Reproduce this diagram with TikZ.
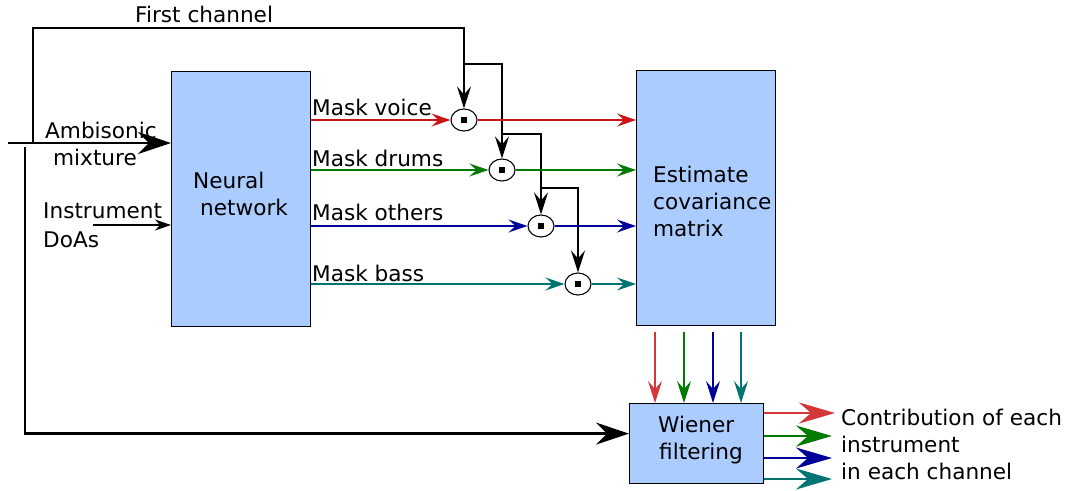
\documentclass[tikz,border=0pt]{standalone}
\usepackage{fontspec}
\setmainfont{DejaVu Sans}
\usetikzlibrary{arrows.meta,shapes.geometric,calc}
\definecolor{boxblue}{HTML}{AACCFF}
\definecolor{cred}{HTML}{CC1414}
\definecolor{cgreen}{HTML}{007A00}
\definecolor{cblue}{HTML}{00009A}
\definecolor{cteal}{HTML}{007373}
\tikzset{
  blk/.style={draw=black, line width=1.2pt, fill=boxblue, inner sep=0pt},
  txt/.style={anchor=base west, inner sep=0pt},
  mult/.style={draw=black, ellipse, line width=1.1pt, fill=white, minimum width=26pt, minimum height=22pt, inner sep=0pt},
  dot/.style={fill=black, minimum size=6pt, inner sep=0pt},
  tipS/.style={-{Stealth[length=19pt,width=13pt,inset=7pt]}},
  tipM/.style={-{Stealth[length=22pt,width=14pt,inset=8pt]}},
  tipL/.style={-{Stealth[length=33pt,width=22pt,inset=11pt]}},
  tipO/.style={-{Stealth[length=36pt,width=21pt,inset=12pt]}},
  thinline/.style={line width=1.5pt},
  thickline/.style={line width=2.7pt},
}
\begin{document}
\begin{tikzpicture}[x=1pt,y=-1pt,font=\fontsize{21.6}{27}\selectfont]
\useasboundingbox (0,0) rectangle (1067,490);

% boxes
\node[blk, minimum width=139pt, minimum height=255pt, anchor=north west] (nn) at (171,71) {};
\node[blk, minimum width=139pt, minimum height=255pt, anchor=north west] (est) at (636,70) {};
\node[blk, minimum width=134pt, minimum height=80pt, anchor=north west] (wf) at (629,403) {};

% box texts
\node[txt] (t1) at (193,188) {Neural};
\node[txt] (t2) at (200,215) {network};
\node[txt] (t3) at (653,182) {Estimate};
\node[txt] (t4) at (653,209) {covariance};
\node[txt] (t5) at (653,236) {matrix};
\node[txt] (t6) at (658,432) {Wiener};
\node[txt] (t7) at (659,459) {filtering};

% multipliers
\node[mult] (c1) at (464,120) {};
\node[mult] (c2) at (502,170) {};
\node[mult] (c3) at (541,226) {};
\node[mult] (c4) at (578,284) {};
\node[dot] (d1) at (c1) {};
\node[dot] (d2) at (c2) {};
\node[dot] (d3) at (c3) {};
\node[dot] (d4) at (c4) {};

% labels
\node[txt] (lfc) at (135,22) {First channel};
\node[txt] (lam1) at (45,138) {Ambisonic};
\node[txt] (lam2) at (53,165) {mixture};
\node[txt] (lin1) at (43,218) {Instrument};
\node[txt] (lin2) at (43,247) {DoAs};
\node[txt] (lmv) at (312,115) {Mask voice};
\node[txt] (lmd) at (312,166) {Mask drums};
\node[txt] (lmo) at (312,220) {Mask others};
\node[txt] (lmb) at (312,281) {Mask bass};
\node[txt] (lo1) at (841,425) {Contribution of each};
\node[txt] (lo2) at (841,452) {instrument};
\node[txt] (lo3) at (841,479) {in each channel};

% inputs
\coordinate (in) at (8,143);
\coordinate (split) at (33,143);
\coordinate (split2) at (25,147);
\coordinate (top) at (464,28);
\coordinate (doa) at (93,225);
\draw[thickline, tipL] (in) -- (in -| nn.west);
\draw[thinline, tipM] (split) |- (top) -- (c1.north);
\draw[thickline, tipL] (split2) |- ($(wf.west)+(0,-10)$);
\draw[thinline, -{Stealth[length=16pt,width=11pt,inset=5pt]}] (doa) -- (doa -| nn.west);

% branches of first channel
\coordinate (b1) at (464,64);
\coordinate (b2) at (502,134);
\coordinate (b3) at (541,188);
\draw[thinline, tipM] (b1) -| (c2.north);
\draw[thinline, tipM] (b2) -| (c3.north);
\draw[thinline, tipM] (b3) -| (c4.north);

% masks
\draw[thinline, cred, tipS] (nn.east |- c1) -- (c1.west);
\draw[thinline, cred, tipS] (c1.east) -- (est.west |- c1);
\draw[thinline, cgreen, tipS] (nn.east |- c2) -- (c2.west);
\draw[thinline, cgreen, tipS] (c2.east) -- (est.west |- c2);
\draw[thinline, cblue, tipS] (nn.east |- c3) -- (c3.west);
\draw[thinline, cblue, tipS] (c3.east) -- (est.west |- c3);
\draw[thinline, cteal, tipS] (nn.east |- c4) -- (c4.west);
\draw[thinline, cteal, tipS] (c4.east) -- (est.west |- c4);

% covariance to wiener
\coordinate (e1) at ($(est.south west)+(19,6)$);
\coordinate (e2) at ($(est.south west)+(48,6)$);
\coordinate (e3) at ($(est.south west)+(77,6)$);
\coordinate (e4) at ($(est.south west)+(105,6)$);
\draw[thinline, cred!85!white, tipM] (e1) -- (e1 |- wf.north);
\draw[thinline, cgreen, tipM] (e2) -- (e2 |- wf.north);
\draw[thinline, cblue, tipM] (e3) -- (e3 |- wf.north);
\draw[thinline, cteal, tipM] (e4) -- (e4 |- wf.north);

% outputs
\coordinate (o1) at (835,413);
\coordinate (o2) at (832,436);
\coordinate (o3) at (832,458);
\coordinate (o4) at (832,479);
\draw[thickline, cred!85!white, tipO] (wf.east |- o1) -- (o1);
\draw[thickline, cgreen, tipO] (wf.east |- o2) -- (o2);
\draw[thickline, cblue, tipO] (wf.east |- o3) -- (o3);
\draw[thickline, cteal, tipO] (wf.east |- o4) -- (o4);
\end{tikzpicture}
\end{document}
